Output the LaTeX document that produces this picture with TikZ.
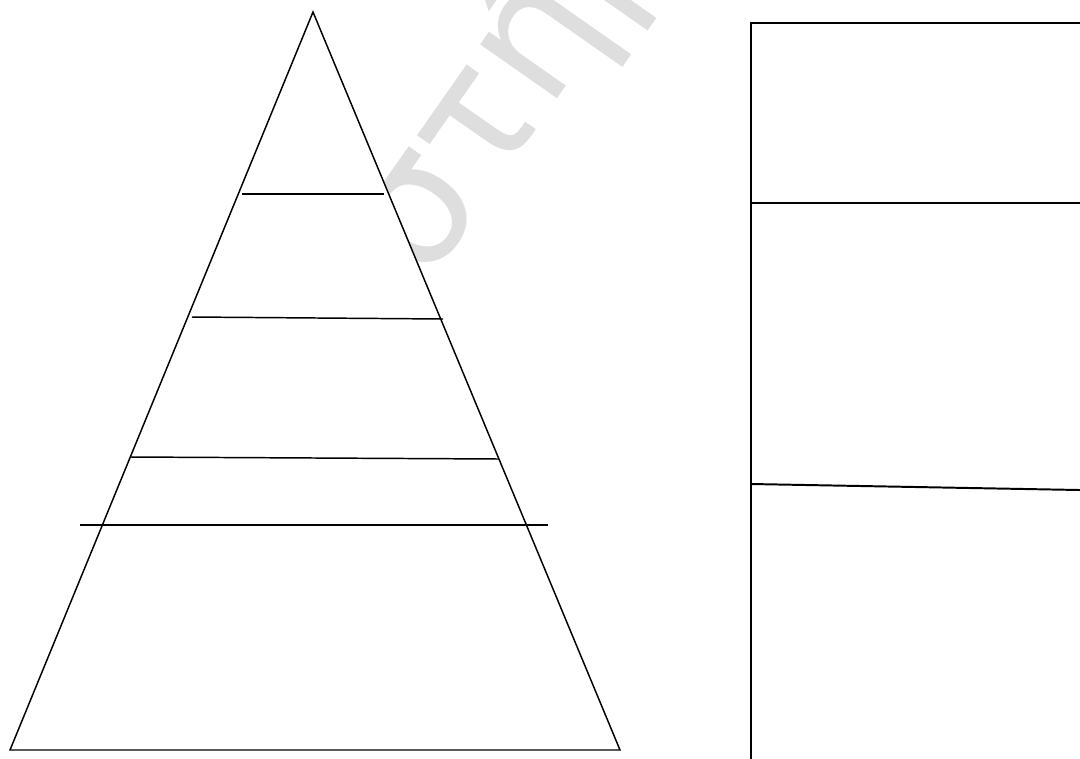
\documentclass[tikz,border=0pt]{standalone}
\usepackage{fontspec}
\newfontfamily\wmfont{DejaVu Sans}
\definecolor{wmgray}{RGB}{222,222,222}
\begin{document}
\begin{tikzpicture}[x=0.025cm,y=-0.025cm,
  tri/.style={draw=black,line width=1.05pt,fill=white},
  trl/.style={draw=black,line width=1.05pt},
  box/.style={draw=black,line width=1.4pt},
  wm/.style={text=wmgray,font=\wmfont\fontsize{122}{122}\selectfont,rotate=55}]
\useasboundingbox (0,0) rectangle (1080,758);
\clip (0,0) rectangle (1080,758);
\fill[white] (0,0) rectangle (1080,758);
% watermark (partly hidden behind the pyramid)
\node[wm,anchor=center] (wmark) at (492,104) {ιστήμ};
% pyramid
\coordinate (apex) at (313,12);
\coordinate (bl) at (10,750);
\coordinate (br) at (620,750);
\draw[tri] (bl) -- (apex) -- (br) -- cycle;
\draw[trl] (242,194) -- (384,194);
\draw[trl] (192,317) -- (443,319);
\draw[trl] (131,457) -- (499,459);
\draw[trl] (80,525) -- (548,525);
% rectangle
\draw[box] (1090,23) -- (751,23) -- (751,770);
\draw[box] (751,203) -- (1090,203);
\draw[box] (751,484) -- (1090,490.2);
\end{tikzpicture}
\end{document}
